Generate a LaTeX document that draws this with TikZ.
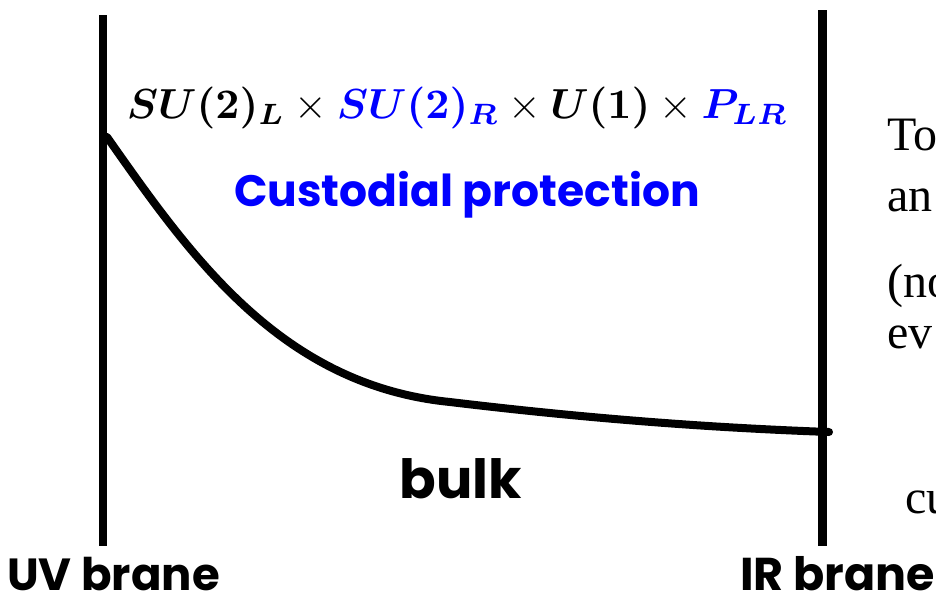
\documentclass[tikz,border=0pt]{standalone}
\usepackage{amsmath}
\usepackage{fontspec}
\setmainfont{Liberation Serif}
\newfontfamily\comicfont{Poppins}
\definecolor{pureblue}{RGB}{0,0,255}
\tikzset{
  brane/.style={line width=8pt},
  profile/.style={line width=8pt, line join=round, line cap=round},
  comic/.style={font=\comicfont\bfseries\fontsize{44}{48}\selectfont, inner sep=0pt},
  cut/.style={font=\fontsize{48}{52}\selectfont, inner sep=0pt, anchor=base west},
}
\begin{document}
\begin{tikzpicture}[x=1pt,y=-1pt]
\useasboundingbox (0,0) rectangle (936,598);
\clip (0,0) rectangle (936,598);
\fill[white] (0,0) rectangle (936,598);
% branes
\coordinate (uvtop) at (103,15);
\coordinate (uvbot) at (103,546);
\coordinate (irtop) at (822,10);
\coordinate (irbot) at (822,546);
\draw[brane] (uvtop) -- (uvbot);
\draw[brane, line width=9pt] (irtop) -- (irbot);
% profile
\coordinate (p0) at (107,137);
\coordinate (p1) at (450,402);
\coordinate (p2) at (829,432);
\draw[profile] (p0) .. controls (190,255) and (280,385) .. (p1)
               .. controls (600,420) and (720,428) .. (p2);
% formula
\node[inner sep=0pt, anchor=base west, scale=4.2] (sym) at (126,118)
  {$\boldsymbol{SU(2)_L}\times{\color{pureblue}\boldsymbol{SU(2)_R}}\times\boldsymbol{U(1)}\times{\color{pureblue}\boldsymbol{P_{LR}}}$};
\node[comic, text=pureblue, anchor=base] (cust) at (467,206) {Custodial protection};
\node[comic, anchor=base, font=\comicfont\bfseries\fontsize{54}{58}\selectfont] (bulk) at (461,498) {bulk};
\node[comic, anchor=base west, font=\comicfont\bfseries\fontsize{45}{50}\selectfont] (uv) at (7,590) {UV brane};
\node[comic, anchor=base east, font=\comicfont\bfseries\fontsize{46}{50}\selectfont] (ir) at (935,590) {IR brane};
% cut-off text at right edge
\node[cut] (t1) at (887,150) {To};
\node[cut] (t2) at (887,211) {an};
\node[cut] (t3) at (887,297) {(no};
\node[cut] (t4) at (887,348) {ev};
\node[cut] (t5) at (905,513) {cu};
\end{tikzpicture}
\end{document}
